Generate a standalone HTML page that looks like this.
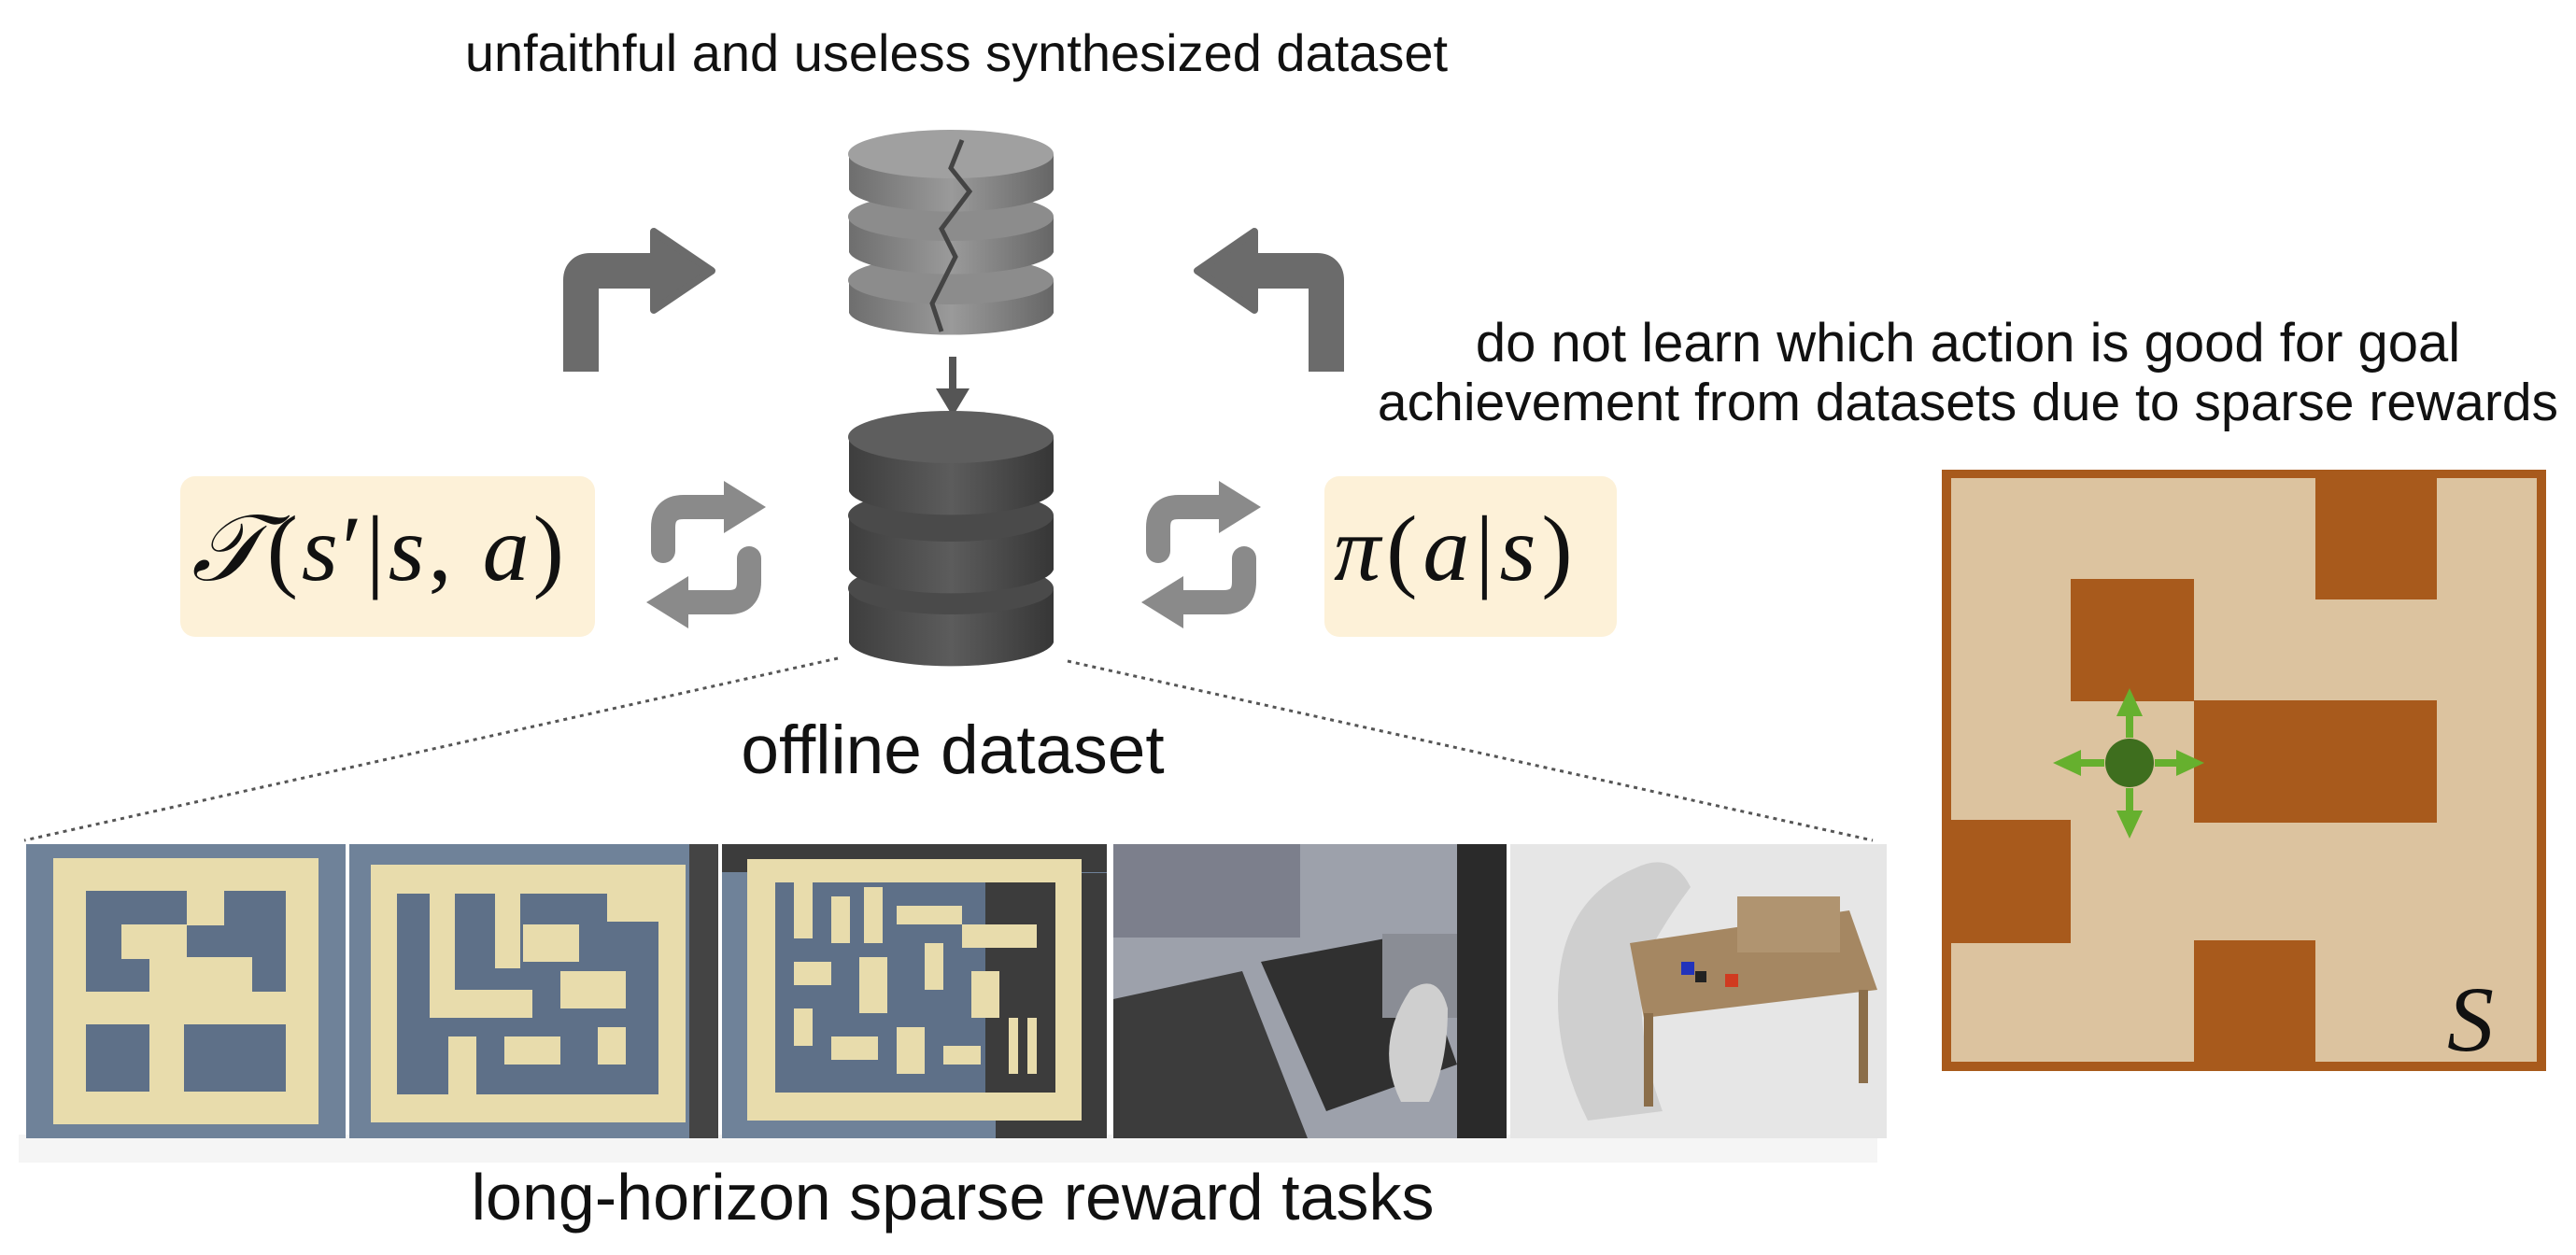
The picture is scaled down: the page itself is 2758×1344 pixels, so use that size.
<!DOCTYPE html>
<html><head><meta charset="utf-8"><style>
html,body{margin:0;padding:0;background:#fff;}
body{width:2758px;height:1344px;position:relative;overflow:hidden;font-family:"Liberation Sans",sans-serif;}
.t{position:absolute;white-space:nowrap;color:#111;transform:translateX(-50%);}
.box{position:absolute;background:#fdf1d8;border-radius:16px;}
.math{position:absolute;font-family:"Liberation Serif",serif;color:#111;white-space:nowrap;}
</style></head><body>
<div class="t" style="left:1024px;top:24px;font-size:56px;">unfaithful and useless synthesized dataset</div>
<div class="t" style="left:2107px;top:334px;font-size:58px;">do not learn which action is good for goal</div>
<div class="t" style="left:2107px;top:398px;font-size:57px;">achievement from datasets due to sparse rewards</div>
<div class="t" style="left:1020px;top:762px;font-size:73px;">offline dataset</div>
<div class="t" style="left:1020px;top:1242px;font-size:70px;">long-horizon sparse reward tasks</div>

<div class="box" style="left:193px;top:510px;width:444px;height:172px;"></div>
<div class="math" style="left:205px;top:530px;font-size:100px;letter-spacing:4px;"><i>𝒯</i>(<i>s</i>′|<i>s</i>, <i>a</i>)</div>
<div class="box" style="left:1418px;top:510px;width:313px;height:172px;"></div>
<div class="math" style="left:1428px;top:530px;font-size:100px;letter-spacing:6px;"><i>π</i>(<i>a</i>|<i>s</i>)</div>

<svg width="2758" height="1344" style="position:absolute;left:0;top:0;">
<defs>
<linearGradient id="dg" x1="0" x2="1"><stop offset="0" stop-color="#3e3e3e"/><stop offset=".5" stop-color="#5c5c5c"/><stop offset="1" stop-color="#363636"/></linearGradient>
<linearGradient id="lg" x1="0" x2="1"><stop offset="0" stop-color="#6e6e6e"/><stop offset=".5" stop-color="#9a9a9a"/><stop offset="1" stop-color="#666"/></linearGradient>
</defs>
<line x1="897" y1="705" x2="26" y2="900" stroke="#555" stroke-width="3" stroke-dasharray="4,5"/>
<line x1="1143" y1="708" x2="2005" y2="900" stroke="#555" stroke-width="3" stroke-dasharray="4,5"/>
<g>
<path d="M909,300 v35 a110,26 0 0 0 219,0 v-35 z" fill="url(#lg)"/><ellipse cx="1018" cy="300" rx="110" ry="26" fill="#8c8c8c"/>
<path d="M909,232 v38 a110,26 0 0 0 219,0 v-38 z" fill="url(#lg)"/><ellipse cx="1018" cy="232" rx="110" ry="26" fill="#8c8c8c"/>
<path d="M909,165 v38 a110,26 0 0 0 219,0 v-38 z" fill="url(#lg)"/><ellipse cx="1018" cy="165" rx="110" ry="26" fill="#a0a0a0"/>
<path d="M1030,150 l-12,30 l20,25 l-30,40 l15,30 l-25,50 l10,30" stroke="#444" stroke-width="5" fill="none"/>
</g>
<line x1="1020" y1="382" x2="1020" y2="420" stroke="#555" stroke-width="8"/>
<polygon points="1002,416 1038,416 1020,446" fill="#555"/>
<g>
<path d="M909,630 v58 a110,28 0 0 0 219,0 v-58 z" fill="url(#dg)"/><ellipse cx="1018" cy="630" rx="110" ry="28" fill="#4a4a4a"/>
<path d="M909,552 v58 a110,28 0 0 0 219,0 v-58 z" fill="url(#dg)"/><ellipse cx="1018" cy="552" rx="110" ry="28" fill="#4a4a4a"/>
<path d="M909,468 v58 a110,28 0 0 0 219,0 v-58 z" fill="url(#dg)"/><ellipse cx="1018" cy="468" rx="110" ry="28" fill="#5e5e5e"/>
</g>
<path d="M622,398 V300 q0,-10 10,-10 H705" stroke="#6b6b6b" stroke-width="38" fill="none" stroke-linejoin="round"/>
<polygon points="700,248 762,290 700,332" fill="#6b6b6b" stroke="#6b6b6b" stroke-width="8" stroke-linejoin="round"/>
<path d="M1420,398 V300 q0,-10 -10,-10 H1338" stroke="#6b6b6b" stroke-width="38" fill="none" stroke-linejoin="round"/>
<polygon points="1343,248 1282,290 1343,332" fill="#6b6b6b" stroke="#6b6b6b" stroke-width="8" stroke-linejoin="round"/>
<g fill="none" stroke="#8a8a8a" stroke-width="26" stroke-linecap="round">
<path d="M710,590 v-25 q0,-22 22,-22 h50"/><path d="M802,598 v25 q0,22 -22,22 h-50"/>
<path d="M1240,590 v-25 q0,-22 22,-22 h50"/><path d="M1332,598 v25 q0,22 -22,22 h-50"/>
</g>
<g fill="#8a8a8a">
<polygon points="775,515 820,543 775,571"/><polygon points="737,617 692,645 737,673"/>
<polygon points="1305,515 1350,543 1305,571"/><polygon points="1267,617 1222,645 1267,673"/>
</g>
<rect x="2079" y="503" width="647" height="644" fill="#a85a1c"/>
<rect x="2089" y="512" width="627" height="625" fill="#dcc39f"/>
<g fill="#a85a1c">
<rect x="2479" y="503" width="130" height="139"/>
<rect x="2217" y="620" width="132" height="131"/>
<rect x="2349" y="750" width="260" height="131"/>
<rect x="2079" y="878" width="138" height="132"/>
<rect x="2349" y="1007" width="130" height="140"/>
</g>
<g stroke="#66b02e" stroke-width="8" fill="#66b02e">
<line x1="2280" y1="790" x2="2280" y2="765"/><line x1="2280" y1="844" x2="2280" y2="870"/>
<line x1="2253" y1="817" x2="2228" y2="817"/><line x1="2307" y1="817" x2="2332" y2="817"/>
<polygon stroke="none" points="2280,737 2266,767 2294,767"/><polygon stroke="none" points="2280,898 2266,868 2294,868"/>
<polygon stroke="none" points="2198,817 2228,803 2228,831"/><polygon stroke="none" points="2360,817 2330,803 2330,831"/>
</g>
<circle cx="2280" cy="817" r="26" fill="#3e6e1e"/>
<text x="2620" y="1125" font-family="Liberation Serif,serif" font-style="italic" font-size="100" fill="#111">S</text>
<rect x="20" y="1215" width="1990" height="30" fill="#eee" opacity=".6"/>
<rect x="28" y="904" width="342" height="315" fill="#6f8299"/>
<rect x="374" y="904" width="395" height="315" fill="#6f8299"/><rect x="738" y="904" width="31" height="315" fill="#444"/>
<rect x="773" y="904" width="412" height="315" fill="#6f8299"/><rect x="1066" y="935" width="119" height="284" fill="#3c3c3c"/><rect x="773" y="904" width="412" height="30" fill="#3c3c3c"/>
<rect x="1192" y="904" width="421" height="315" fill="#9da1ab"/>
<rect x="1617" y="904" width="403" height="315" fill="#e6e6e6"/>
<rect x="57" y="919" width="284" height="285" fill="#e8dcac"/>
<rect x="92" y="954" width="214" height="215" fill="#5e7088"/>
<g fill="#e8dcac"><rect x="200" y="954" width="40" height="37"/><rect x="130" y="990" width="70" height="37"/><rect x="200" y="1025" width="70" height="37"/><rect x="92" y="1062" width="214" height="35"/><rect x="160" y="1097" width="37" height="72"/><rect x="160" y="1025" width="40" height="37"/></g>
<rect x="397" y="926" width="337" height="276" fill="#e8dcac"/>
<rect x="425" y="957" width="280" height="215" fill="#5e7088"/>
<g fill="#e8dcac"><rect x="460" y="957" width="27" height="130"/><rect x="530" y="957" width="27" height="80"/><rect x="560" y="990" width="60" height="40"/><rect x="600" y="1040" width="70" height="40"/><rect x="460" y="1060" width="110" height="30"/><rect x="480" y="1110" width="30" height="62"/><rect x="540" y="1110" width="60" height="30"/><rect x="640" y="1100" width="30" height="40"/><rect x="650" y="957" width="55" height="30"/></g>
<rect x="800" y="920" width="358" height="280" fill="#e8dcac"/>
<rect x="830" y="945" width="300" height="225" fill="#5e7088"/><rect x="1055" y="945" width="75" height="225" fill="#3c3c3c"/>
<g fill="#e8dcac"><rect x="850" y="945" width="20" height="60"/><rect x="890" y="960" width="20" height="50"/><rect x="925" y="950" width="20" height="60"/><rect x="960" y="970" width="70" height="20"/><rect x="1030" y="990" width="80" height="25"/><rect x="850" y="1030" width="40" height="25"/><rect x="920" y="1025" width="30" height="60"/><rect x="990" y="1010" width="20" height="50"/><rect x="1040" y="1040" width="30" height="50"/><rect x="850" y="1080" width="20" height="40"/><rect x="890" y="1110" width="50" height="25"/><rect x="960" y="1100" width="30" height="50"/><rect x="1010" y="1120" width="40" height="20"/><rect x="1080" y="1090" width="10" height="60"/><rect x="1100" y="1090" width="10" height="60"/></g>
<rect x="1192" y="904" width="200" height="100" fill="#7c7f8c"/>
<polygon points="1192,1070 1330,1040 1400,1219 1192,1219" fill="#3c3c3c"/>
<polygon points="1350,1030 1510,1000 1560,1140 1420,1190" fill="#303030"/>
<rect x="1480" y="1000" width="80" height="90" fill="#8a8d95"/>
<path d="M1500,1180 q-30,-60 10,-120 q30,-20 40,20 q0,60 -20,100z" fill="#cfcfcf"/>
<rect x="1560" y="904" width="53" height="315" fill="#2a2a2a"/>
<path d="M1700,1200 q-40,-80 -30,-160 q10,-80 80,-110 q40,-20 60,20 q-30,40 -50,80 q-10,80 20,160z" fill="#cfcfcf"/>
<polygon points="1745,1010 1980,975 2010,1060 1760,1090" fill="#a58762"/>
<rect x="1760" y="1085" width="10" height="100" fill="#8b6e4a"/><rect x="1990" y="1060" width="10" height="100" fill="#8b6e4a"/>
<rect x="1860" y="960" width="110" height="60" fill="#b09470"/>
<rect x="1800" y="1030" width="14" height="14" fill="#2233bb"/><rect x="1847" y="1043" width="14" height="14" fill="#d03a20"/><rect x="1815" y="1040" width="12" height="12" fill="#222"/>
</svg>
</body></html>
